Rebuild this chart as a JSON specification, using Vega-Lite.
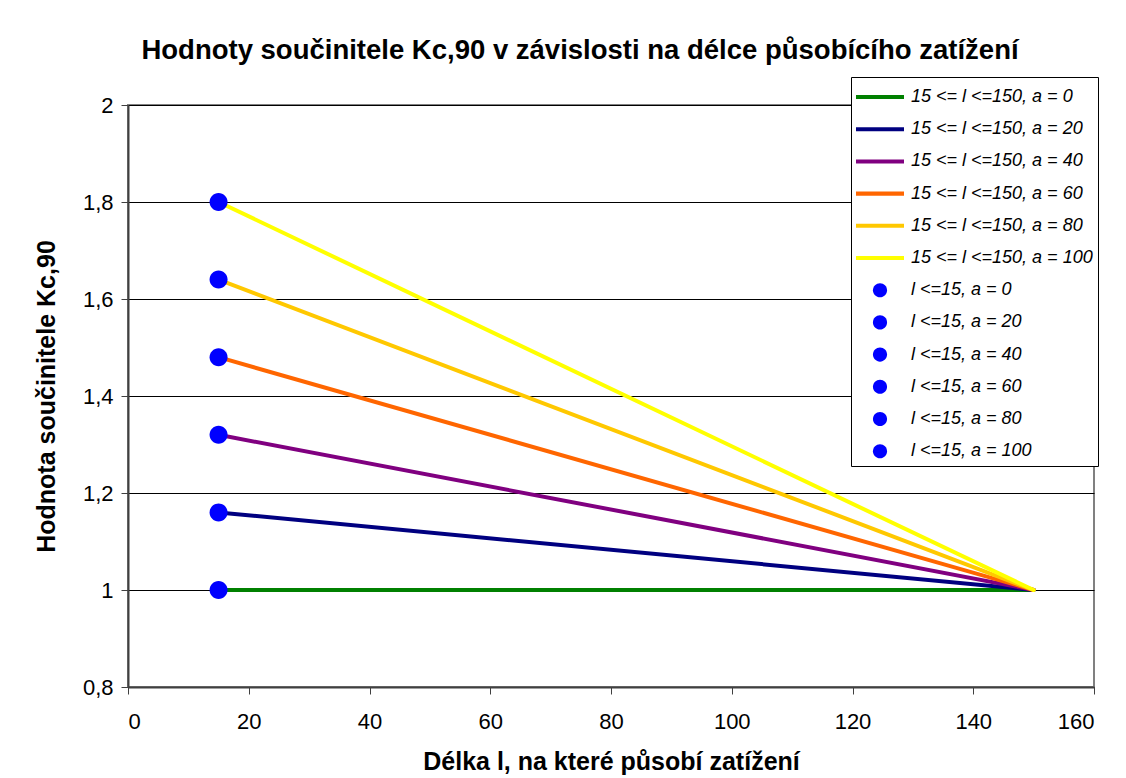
{
  "$schema": "https://vega.github.io/schema/vega-lite/v6.json",
  "autosize": {"type": "none"},
  "width": 966,
  "height": 582,
  "padding": {"left": 128, "top": 105, "right": 32, "bottom": 91},
  "background": "white",
  "title": {
    "text": "Hodnoty součinitele Kc,90 v závislosti na délce působícího zatížení",
    "font": "Liberation Sans",
    "fontSize": 27.5,
    "fontWeight": "bold",
    "color": "#000000",
    "anchor": "middle",
    "dx": -31,
    "offset": 12
  },
  "datasets": {
    "lineData": [
      {"series": "15 <= l <=150, a = 0", "l": 15, "k": 1.0},
      {"series": "15 <= l <=150, a = 0", "l": 150, "k": 1.0},
      {"series": "15 <= l <=150, a = 20", "l": 15, "k": 1.16},
      {"series": "15 <= l <=150, a = 20", "l": 150, "k": 1.0},
      {"series": "15 <= l <=150, a = 40", "l": 15, "k": 1.32},
      {"series": "15 <= l <=150, a = 40", "l": 150, "k": 1.0},
      {"series": "15 <= l <=150, a = 60", "l": 15, "k": 1.48},
      {"series": "15 <= l <=150, a = 60", "l": 150, "k": 1.0},
      {"series": "15 <= l <=150, a = 80", "l": 15, "k": 1.64},
      {"series": "15 <= l <=150, a = 80", "l": 150, "k": 1.0},
      {"series": "15 <= l <=150, a = 100", "l": 15, "k": 1.8},
      {"series": "15 <= l <=150, a = 100", "l": 150, "k": 1.0}
    ],
    "pointData": [
      {"series": "l <=15, a = 0", "l": 15, "k": 1.0},
      {"series": "l <=15, a = 20", "l": 15, "k": 1.16},
      {"series": "l <=15, a = 40", "l": 15, "k": 1.32},
      {"series": "l <=15, a = 60", "l": 15, "k": 1.48},
      {"series": "l <=15, a = 80", "l": 15, "k": 1.64},
      {"series": "l <=15, a = 100", "l": 15, "k": 1.8}
    ]
  },
  "encoding": {
    "x": {
      "field": "l",
      "type": "quantitative",
      "scale": {"domain": [0, 160], "nice": false},
      "axis": {"values": [0, 20, 40, 60, 80, 100, 120, 140, 160]},
      "title": "Délka l, na které působí zatížení"
    },
    "y": {
      "field": "k",
      "type": "quantitative",
      "scale": {"domain": [0.8, 2], "nice": false, "zero": false},
      "axis": {
        "values": [0.8, 1, 1.2, 1.4, 1.6, 1.8, 2],
        "labelExpr": "replace(format(datum.value, '.1~f'), '.', ',')"
      },
      "title": "Hodnota součinitele Kc,90"
    },
    "color": {
      "field": "series",
      "type": "nominal",
      "scale": {
        "domain": [
          "15 <= l <=150, a = 0",
          "15 <= l <=150, a = 20",
          "15 <= l <=150, a = 40",
          "15 <= l <=150, a = 60",
          "15 <= l <=150, a = 80",
          "15 <= l <=150, a = 100",
          "l <=15, a = 0",
          "l <=15, a = 20",
          "l <=15, a = 40",
          "l <=15, a = 60",
          "l <=15, a = 80",
          "l <=15, a = 100"
        ],
        "range": [
          "#008000", "#000080", "#800080", "#FF6600", "#FFC800", "#FFFF00",
          "#0000FF", "#0000FF", "#0000FF", "#0000FF", "#0000FF", "#0000FF"
        ]
      },
      "legend": {"title": null, "orient": "none", "legendX": 723, "legendY": -28}
    }
  },
  "layer": [
    {
      "data": {"name": "lineData"},
      "mark": {"type": "line", "strokeWidth": 4, "strokeCap": "round"}
    },
    {
      "data": {"name": "pointData"},
      "mark": {"type": "point", "filled": true, "size": 1467, "opacity": 1, "strokeWidth": 0},
      "encoding": {
        "shape": {
          "field": "series",
          "type": "nominal",
          "scale": {
            "domain": [
              "15 <= l <=150, a = 0",
              "15 <= l <=150, a = 20",
              "15 <= l <=150, a = 40",
              "15 <= l <=150, a = 60",
              "15 <= l <=150, a = 80",
              "15 <= l <=150, a = 100",
              "l <=15, a = 0",
              "l <=15, a = 20",
              "l <=15, a = 40",
              "l <=15, a = 60",
              "l <=15, a = 80",
              "l <=15, a = 100"
            ],
            "range": [
              "M-1.6,-0.135H1.6V0.135H-1.6Z",
              "M-1.6,-0.135H1.6V0.135H-1.6Z",
              "M-1.6,-0.135H1.6V0.135H-1.6Z",
              "M-1.6,-0.135H1.6V0.135H-1.6Z",
              "M-1.6,-0.135H1.6V0.135H-1.6Z",
              "M-1.6,-0.135H1.6V0.135H-1.6Z",
              "M-0.47,0A0.47,0.47,0,1,0,0.47,0A0.47,0.47,0,1,0,-0.47,0Z",
              "M-0.47,0A0.47,0.47,0,1,0,0.47,0A0.47,0.47,0,1,0,-0.47,0Z",
              "M-0.47,0A0.47,0.47,0,1,0,0.47,0A0.47,0.47,0,1,0,-0.47,0Z",
              "M-0.47,0A0.47,0.47,0,1,0,0.47,0A0.47,0.47,0,1,0,-0.47,0Z",
              "M-0.47,0A0.47,0.47,0,1,0,0.47,0A0.47,0.47,0,1,0,-0.47,0Z",
              "M-0.47,0A0.47,0.47,0,1,0,0.47,0A0.47,0.47,0,1,0,-0.47,0Z"
            ]
          },
          "legend": {"title": null, "orient": "none", "legendX": 723, "legendY": -28}
        }
      }
    }
  ],
  "config": {
    "view": {"stroke": "#808080", "strokeWidth": 2},
    "legend": {
      "padding": 5,
      "symbolSize": 900,
      "symbolOffset": 9,
      "symbolStrokeWidth": 0,
      "symbolOpacity": 1,
      "rowPadding": 8.2,
      "labelOffset": 16,
      "labelFont": "Liberation Sans",
      "labelFontSize": 18,
      "labelFontStyle": "italic",
      "labelColor": "#000000",
      "labelLimit": 400,
      "strokeColor": "#000000",
      "fillColor": "#FFFFFF"
    },
    "axis": {
      "labelFont": "Liberation Sans",
      "labelFontSize": 22,
      "labelColor": "#000000",
      "titleFont": "Liberation Sans",
      "titleFontSize": 25,
      "titleFontWeight": "bold",
      "titleColor": "#000000",
      "tickColor": "#404040",
      "tickSize": 7,
      "tickWidth": 1,
      "domainColor": "#404040",
      "domainWidth": 2
    },
    "axisX": {"grid": false, "labelPadding": 17, "titlePadding": 17},
    "axisY": {"grid": true, "gridColor": "#000000", "gridWidth": 1, "labelPadding": 8, "titlePadding": 23}
  }
}
